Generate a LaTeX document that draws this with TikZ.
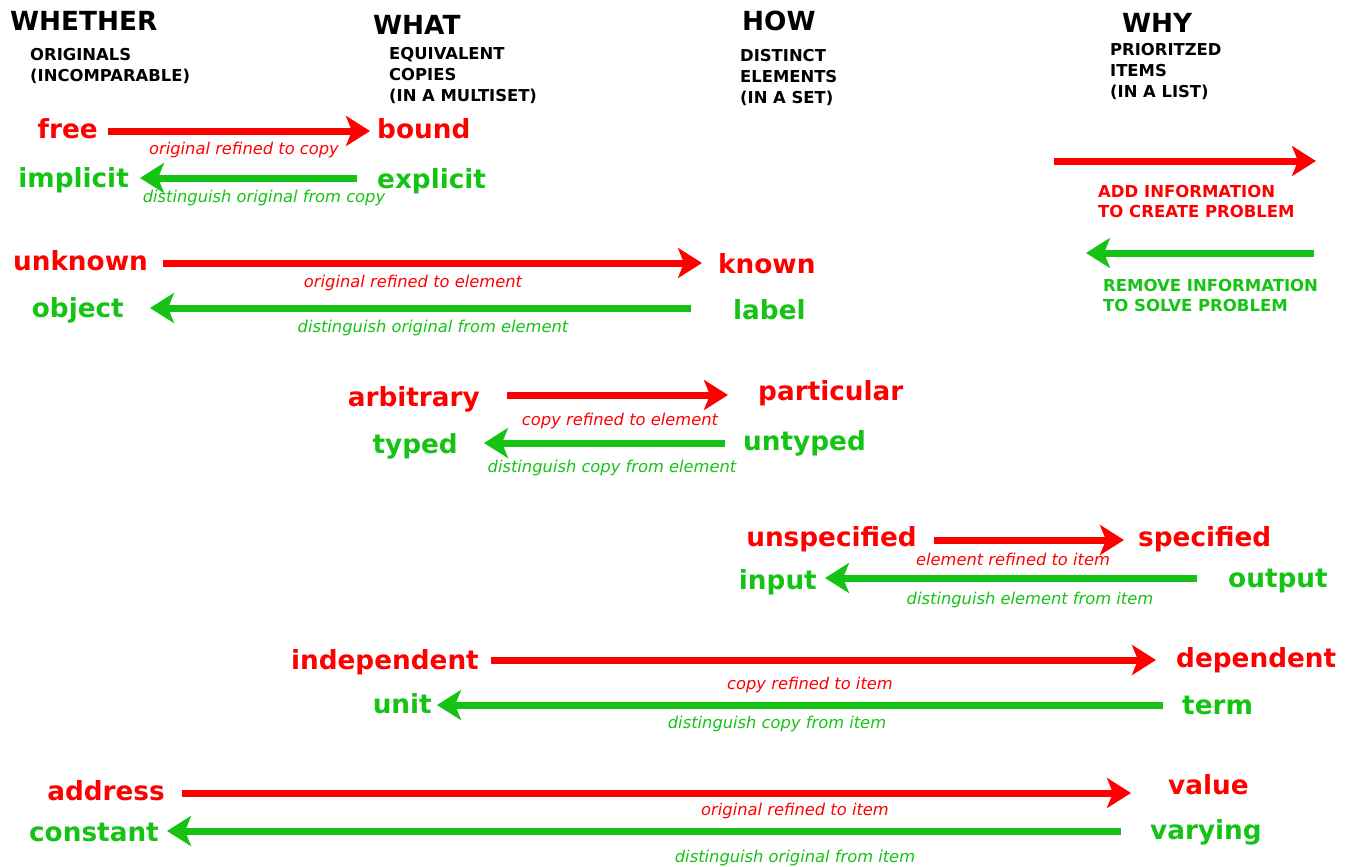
\documentclass[tikz,border=0pt]{standalone}
\usepackage{fontspec}
\setmainfont{DejaVu Sans}[
  BoldFont={DejaVu Sans Bold},
  ItalicFont={DejaVu Sans Oblique},
  BoldItalicFont={DejaVu Sans Bold Oblique}]
\usetikzlibrary{arrows.meta}
\definecolor{ired}{RGB}{255,0,0}
\definecolor{igreen}{RGB}{20,195,20}

\begin{document}
\begin{tikzpicture}[x=1pt,y=-1pt,
  word/.style={inner sep=0pt, font=\fontsize{26.3}{26}\selectfont\bfseries,
    text height=20pt, text depth=0pt},
  redword/.style={word, text=ired},
  greenword/.style={word, text=igreen},
  head/.style={word, anchor=west, text height=19pt},
  sub/.style={inner sep=0pt, anchor=north west, align=left,
    font=\fontsize{16.4}{21}\selectfont\bfseries},
  hint/.style={inner sep=0pt, anchor=north west, align=left,
    font=\fontsize{16.5}{20.5}\selectfont\bfseries},
  note/.style={inner sep=0pt, font=\fontsize{16.3}{16}\selectfont\itshape},
  rednote/.style={note, text=ired},
  greennote/.style={note, text=igreen},
  flow/.style={line width=7pt,
    -{Stealth[length=24pt,width=30pt,inset=6pt]}},
  redflow/.style={flow, draw=ired},
  greenflow/.style={flow, draw=igreen},
]
\useasboundingbox (0,0) rectangle (1353,867);

% column headings
\node[head] (hWhether) at (10,21) {WHETHER};
\node[head] (hWhat)    at (373,25) {WHAT};
\node[head] (hHow)     at (742,21) {HOW};
\node[head] (hWhy)     at (1122,23) {WHY};
\node[sub] (sWhether) at (30,48)  {ORIGINALS\\(INCOMPARABLE)};
\node[sub] (sWhat)    at (389,47) {EQUIVALENT\\COPIES\\(IN A MULTISET)};
\node[sub] (sHow)     at (740,49) {DISTINCT\\ELEMENTS\\(IN A SET)};
\node[sub] (sWhy)     at (1110,43) {PRIORITZED\\ITEMS\\(IN A LIST)};

% legend
\coordinate (addS) at (1054,161);
\coordinate (addE) at (1316,161);
\coordinate (remS) at (1314,253);
\coordinate (remE) at (1086,253);
\draw[redflow] (addS) -- (addE);
\draw[greenflow] (remS) -- (remE);
\node[hint, text=ired] (addTxt) at (1098,185) {ADD INFORMATION\\TO CREATE PROBLEM};
\node[hint, text=igreen] (remTxt) at (1103,279) {REMOVE INFORMATION\\TO SOLVE PROBLEM};

% whether -> what
\node[redword, anchor=east] (free) at (98,129) {free};
\node[redword, anchor=west] (bound) at (377,129) {bound};
\node[greenword, anchor=east] (implicit) at (129,177) {implicit};
\node[greenword, anchor=west] (explicit) at (377,178) {explicit};
\node[rednote] (n1r) at (244,150) {original refined to copy};
\node[greennote] (n1g) at (264,198) {distinguish original from copy};
\draw[redflow] ([xshift=10pt,yshift=-2pt]free.east) -- ([xshift=-7pt,yshift=-2pt]bound.west |- free.east);
\draw[greenflow] ([xshift=-20pt]explicit.west) -- ([xshift=11pt]implicit.east |- explicit.west);

% whether -> how
\node[redword, anchor=east] (unknown) at (148,260) {unknown};
\node[redword, anchor=west] (known) at (718,263) {known};
\node[greenword, anchor=east] (object) at (124,307) {object};
\node[greenword, anchor=west] (label) at (733,309) {label};
\node[rednote] (n2r) at (413,283) {original refined to element};
\node[greennote] (n2g) at (433,328) {distinguish original from element};
\draw[redflow] ([xshift=15pt,yshift=-3pt]unknown.east) -- ([xshift=-16pt,yshift=-3pt]known.west |- unknown.east);
\draw[greenflow] ([xshift=-42pt,yshift=1pt]label.west) -- ([xshift=26pt,yshift=1pt]object.east |- label.west);

% what -> how
\node[redword, anchor=east] (arbitrary) at (480,396) {arbitrary};
\node[redword, anchor=west] (particular) at (758,390) {particular};
\node[greenword, anchor=east] (typed) at (458,443) {typed};
\node[greenword, anchor=west] (untyped) at (743,440) {untyped};
\node[rednote] (n3r) at (620,421) {copy refined to element};
\node[greennote] (n3g) at (612,468) {distinguish copy from element};
\draw[redflow] ([xshift=27pt,yshift=1pt]arbitrary.east) -- ([xshift=-30pt,yshift=1pt]particular.west |- arbitrary.east);
\draw[greenflow] ([xshift=-18pt,yshift=-3pt]untyped.west) -- ([xshift=26pt,yshift=-3pt]typed.east |- untyped.west);

% how -> why
\node[redword, anchor=east] (unspecified) at (917,536) {unspecified};
\node[redword, anchor=west] (specified) at (1138,536) {specified};
\node[greenword, anchor=east] (input) at (817,579) {input};
\node[greenword, anchor=west] (output) at (1228,577) {output};
\node[rednote] (n4r) at (1013,559) {element refined to item};
\node[greennote] (n4g) at (1030,600) {distinguish element from item};
\draw[redflow] ([xshift=17pt,yshift=-4pt]unspecified.east) -- ([xshift=-14pt,yshift=-4pt]specified.west |- unspecified.east);
\draw[greenflow] ([xshift=-31pt,yshift=-1pt]output.west) -- ([xshift=8pt,yshift=-1pt]input.east |- output.west);

% what -> why
\node[redword, anchor=east] (independent) at (479,659) {independent};
\node[redword, anchor=west] (dependent) at (1176,657) {dependent};
\node[greenword, anchor=east] (unit) at (432,703) {unit};
\node[greenword, anchor=west] (term) at (1182,704) {term};
\node[rednote] (n5r) at (810,685) {copy refined to item};
\node[greennote] (n5g) at (777,724) {distinguish copy from item};
\draw[redflow] ([xshift=12pt,yshift=-1pt]independent.east) -- ([xshift=-20pt,yshift=-1pt]dependent.west |- independent.east);
\draw[greenflow] ([xshift=-19pt,yshift=-1pt]term.west) -- ([xshift=5pt,yshift=-1pt]unit.east |- term.west);

% whether -> why
\node[redword, anchor=east] (address) at (165,790) {address};
\node[redword, anchor=west] (value) at (1168,784) {value};
\node[greenword, anchor=east] (constant) at (159,831) {constant};
\node[greenword, anchor=west] (varying) at (1150,829) {varying};
\node[rednote] (n6r) at (795,811) {original refined to item};
\node[greennote] (n6g) at (795,858) {distinguish original from item};
\draw[redflow] ([xshift=17pt,yshift=-3pt]address.east) -- ([xshift=-37pt,yshift=-3pt]value.west |- address.east);
\draw[greenflow] ([xshift=-29pt,yshift=-2pt]varying.west) -- ([xshift=8pt,yshift=-2pt]constant.east |- varying.west);
\end{tikzpicture}
\end{document}
